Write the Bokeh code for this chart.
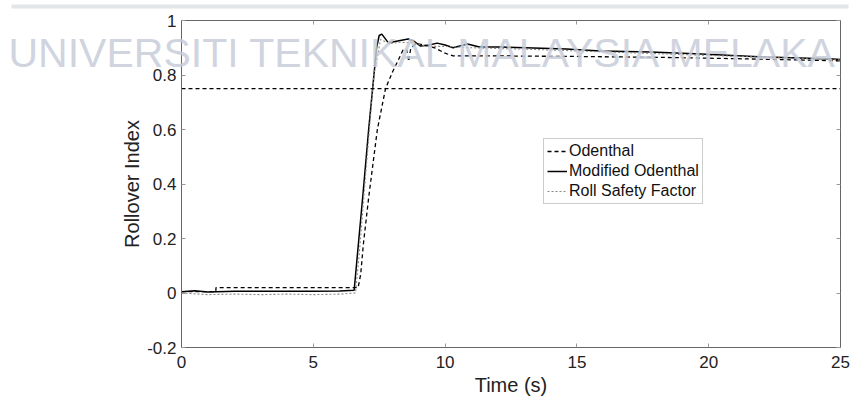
from bokeh.plotting import figure
from bokeh.models import (Range1d, FixedTicker, LinearAxis, Legend, LegendItem,
                          CustomJSTickFormatter, Label, BoxAnnotation)
from bokeh.embed import file_html
from bokeh.resources import INLINE

# ---- data ----
mod_t = [0, 0.5, 1, 2, 3, 4, 5, 6, 6.55, 6.72, 6.9, 7.1, 7.25, 7.4, 7.5, 7.6, 7.85,
         8.2, 8.6, 8.8, 9.07, 9.4, 9.7, 10.0, 10.3, 10.85, 11.3, 12.1, 13.35, 14.6,
         15.9, 17.8, 19.7, 22.2, 24.7, 25]
mod_v = [0.005, 0.008, 0.004, 0.006, 0.006, 0.006, 0.006, 0.007, 0.01, 0.19, 0.38, 0.6,
         0.75, 0.9, 0.945, 0.95, 0.918, 0.925, 0.932, 0.925, 0.906, 0.91, 0.917, 0.91,
         0.9, 0.914, 0.903, 0.903, 0.899, 0.895, 0.888, 0.884, 0.877, 0.866, 0.859, 0.857]

ode_t = [0, 1.3, 1.31, 6.7, 6.8, 6.9, 7.1, 7.43, 7.74, 8.0, 8.2, 8.42, 8.55, 8.62, 8.7,
         8.9, 9.2, 9.6, 10.0, 10.3, 12, 15, 18, 21, 25]
ode_v = [0.005, 0.005, 0.02, 0.02, 0.07, 0.18, 0.35, 0.6, 0.75, 0.81, 0.85, 0.895, 0.89,
         0.85, 0.9, 0.915, 0.91, 0.9, 0.88, 0.87, 0.87, 0.868, 0.865, 0.86, 0.852]

rsf_t = [0, 1, 2, 3, 4, 5, 6, 6.6, 6.75, 7.0, 7.3, 7.55, 7.9, 8.3, 8.8, 9.3, 10, 11, 13,
         16, 20, 25]
rsf_v = [0.0, -0.006, -0.004, -0.006, -0.004, -0.006, -0.004, 0.0, 0.15, 0.45, 0.8, 0.93,
         0.915, 0.92, 0.918, 0.905, 0.905, 0.9, 0.895, 0.885, 0.872, 0.855]

threshold_t = [0, 25]
threshold_v = [0.75, 0.75]

x_ticks = [0, 5, 10, 15, 20, 25]
y_ticks = [-0.2, 0, 0.2, 0.4, 0.6, 0.8, 1]

labels = ["Odenthal", "Modified Odenthal", "Roll Safety Factor"]
x_label = "Time (s)"
y_label = "Rollover Index"
watermark = "UNIVERSITI TEKNIKAL MALAYSIA MELAKA"

FONT = "Liberation Sans"

# ---- layout: axes box in canvas pixels ----
W, H = 853, 401
BOX_L, BOX_R, BOX_T, BOX_B = 181, 840, 20, 347
X0, X1 = x_ticks[0], x_ticks[-1]
Y0, Y1 = y_ticks[0], y_ticks[-1]
sx = (BOX_R - BOX_L) / (X1 - X0)
sy = (BOX_B - BOX_T) / (Y1 - Y0)
x_range = Range1d(X0 - BOX_L / sx, X1 + (W - BOX_R) / sx)
y_range = Range1d(Y0 - (H - BOX_B) / sy, Y1 + BOX_T / sy)

p = figure(width=W, height=H, output_backend="svg", toolbar_location=None,
           x_range=x_range, y_range=y_range,
           min_border_left=0, min_border_right=0, min_border_top=0,
           min_border_bottom=0)
p.background_fill_color = "white"
p.border_fill_color = "white"
p.outline_line_color = None
p.grid.visible = False

fmt = CustomJSTickFormatter(code="return tick.toFixed(1).replace(/\\.0$/, '');")
blank = CustomJSTickFormatter(code="return '';")

xa = p.xaxis[0]
ya = p.yaxis[0]
xa.fixed_location = Y0
ya.fixed_location = X0
xa.bounds = (X0, X1)
ya.bounds = (Y0, Y1)
for ax, ticks in ((xa, x_ticks), (ya, y_ticks)):
    ax.ticker = FixedTicker(ticks=ticks)
    ax.formatter = fmt
    ax.major_tick_in = 4
    ax.major_tick_out = 0
    ax.minor_tick_line_color = None
    ax.axis_line_color = "#666666"
    ax.major_tick_line_color = "#999999"
    ax.major_label_text_font = FONT
    ax.major_label_text_font_size = "17px"
    ax.major_label_text_color = "#222222"
    ax.axis_label_text_font = FONT
    ax.axis_label_text_font_size = "20px"
    ax.axis_label_text_font_style = "normal"
    ax.axis_label_text_color = "#222222"

xa.axis_label = x_label
ya.axis_label = y_label
xa.major_label_standoff = 8
ya.major_label_standoff = 5
xa.axis_label_standoff = 3
ya.axis_label_standoff = 1

for loc, ticks, fl, bd in (("above", x_ticks, Y1, (X0, X1)),
                           ("right", y_ticks, X1, (Y0, Y1))):
    ax = LinearAxis(ticker=FixedTicker(ticks=ticks), formatter=blank,
                    major_tick_in=4, major_tick_out=0, minor_tick_line_color=None,
                    axis_line_color="#666666", major_tick_line_color="#999999",
                    major_label_standoff=0, fixed_location=fl, bounds=bd)
    p.add_layout(ax, loc)

# threshold line
p.line(threshold_t, threshold_v, line_color="black", line_width=1.3, line_dash="4 3")

r_ode = p.line(ode_t, ode_v, line_color="black", line_width=1.3, line_dash="4 3")
r_mod = p.line(mod_t, mod_v, line_color="black", line_width=1.5)
r_rsf = p.line(rsf_t, rsf_v, line_color="#888888", line_width=1.1, line_dash="2 2")

legend = Legend(items=[LegendItem(label=labels[0], renderers=[r_ode]),
                       LegendItem(label=labels[1], renderers=[r_mod]),
                       LegendItem(label=labels[2], renderers=[r_rsf])],
                location=(543, H - 204), orientation="vertical")
legend.label_text_font = FONT
legend.label_text_font_size = "16px"
legend.label_text_color = "#111111"
legend.glyph_width = 20
legend.glyph_height = 18
legend.label_height = 18
legend.label_standoff = 2
legend.spacing = 2
legend.padding = 3
legend.margin = 0
legend.border_line_color = "#999999"
legend.border_line_width = 1
legend.background_fill_color = "white"
legend.background_fill_alpha = 1
p.add_layout(legend, "center")

# watermark and top rule (canvas units)
p.add_layout(BoxAnnotation(left=11, right=848, top=4, bottom=8,
                           left_units="canvas", right_units="canvas",
                           top_units="canvas", bottom_units="canvas",
                           fill_color="#e4e5ea", fill_alpha=1, line_color=None,
                           level="overlay"))
p.add_layout(Label(x=8, y=52, x_units="canvas", y_units="canvas", text=watermark,
                   text_font=FONT, text_font_size="41px", text_color="#c8cdda",
                   text_alpha=0.85, text_baseline="alphabetic", level="overlay"))

open("out.html", "w").write(file_html(p, INLINE))
